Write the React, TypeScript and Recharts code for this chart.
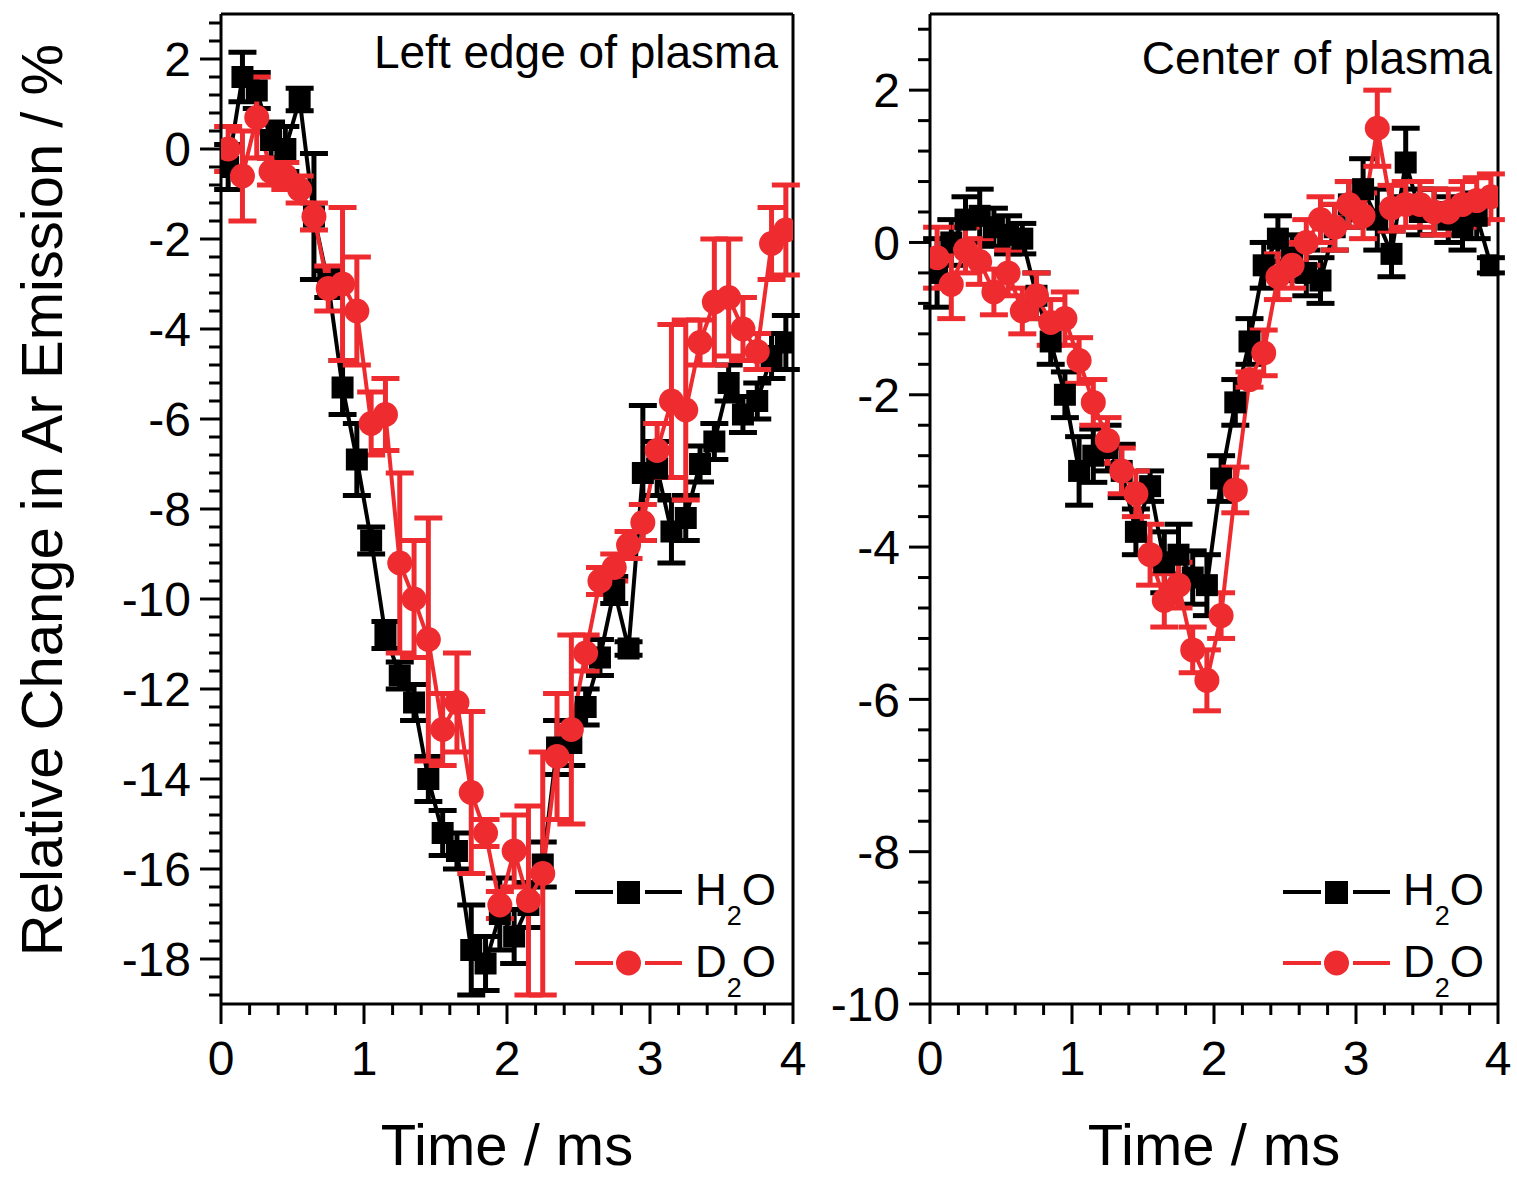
import React from 'react';
import { ComposedChart, Line, XAxis, YAxis, ErrorBar, ReferenceLine } from 'recharts';

const times = [
  0.05, 0.15, 0.25, 0.35, 0.45, 0.55, 0.65, 0.75, 0.85, 0.95,
  1.05, 1.15, 1.25, 1.35, 1.45, 1.55, 1.65, 1.75, 1.85, 1.95,
  2.05, 2.15, 2.25, 2.35, 2.45, 2.55, 2.65, 2.75, 2.85, 2.95,
  3.05, 3.15, 3.25, 3.35, 3.45, 3.55, 3.65, 3.75, 3.85, 3.95,
];

const leftH2O = [
  -0.4, 1.6, 1.3, 0.2, 0.0, 1.1, -1.5, -3.0, -5.3, -6.9,
  -8.7, -10.8, -11.7, -12.3, -14.0, -15.2, -15.6, -17.8, -18.1, -17.0,
  -17.5, -16.8, -15.9, -13.3, -13.2, -12.4, -11.3, -9.8, -11.1, -7.2,
  -7.1, -8.5, -8.2, -7.0, -6.5, -5.2, -5.9, -5.6, -4.6, -4.3,
];
const leftH2OErr = [
  0.5, 0.55, 0.4, 0.4, 0.5, 0.25, 1.4, 0.3, 0.6, 0.8,
  0.3, 0.3, 0.3, 0.4, 0.5, 0.5, 0.4, 1.0, 0.6, 0.8,
  0.6, 0.5, 0.5, 0.6, 0.5, 0.4, 0.4, 0.3, 0.15, 1.5,
  0.6, 0.7, 0.5, 0.4, 0.4, 0.4, 0.4, 0.4, 0.5, 0.6,
];
const leftD2O = [
  0.0, -0.6, 0.7, -0.5, -0.6, -0.9, -1.5, -3.1, -3.0, -3.6,
  -6.1, -5.9, -9.2, -10.0, -10.9, -12.9, -12.3, -14.3, -15.2, -16.8,
  -15.6, -16.7, -16.1, -13.5, -12.9, -11.2, -9.6, -9.3, -8.8, -8.3,
  -6.7, -5.6, -5.8, -4.3, -3.4, -3.3, -4.0, -4.5, -2.1, -1.8,
];
const leftD2OErr = [
  0.5, 1.0, 0.9, 0.3, 0.3, 0.3, 0.3, 0.5, 1.7, 1.2,
  0.7, 0.8, 2.0, 1.3, 2.7, 0.8, 1.1, 1.8, 0.3, 0.3,
  0.8, 2.1, 2.7, 1.4, 2.1, 0.4, 0.3, 0.3, 0.3, 0.4,
  0.6, 1.7, 2.0, 0.5, 1.4, 1.3, 0.7, 0.4, 0.8, 1.0,
];

const centerH2O = [
  -0.4, 0.0, 0.3, 0.35, 0.2, 0.1, 0.05, -0.7, -1.3, -2.0,
  -3.0, -2.8, -2.7, -3.0, -3.8, -3.2, -4.2, -4.1, -4.4, -4.5,
  -3.1, -2.1, -1.3, -0.3, 0.05, -0.2, -0.4, -0.5, 0.2, 0.5,
  0.7, 0.3, -0.15, 1.05, 0.4, 0.4, 0.3, 0.2, 0.35, -0.3,
];
const centerH2OErr = [
  0.45, 0.3, 0.3, 0.35, 0.25, 0.25, 0.2, 0.3, 0.3, 0.3,
  0.45, 0.35, 0.3, 0.35, 0.3, 0.2, 0.4, 0.4, 0.35, 0.4,
  0.3, 0.3, 0.3, 0.3, 0.3, 0.3, 0.3, 0.3, 0.3, 0.3,
  0.4, 0.4, 0.3, 0.45, 0.3, 0.3, 0.3, 0.3, 0.3, 0.1,
];
const centerD2O = [
  -0.2, -0.55, -0.1, -0.25, -0.65, -0.4, -0.9, -0.7, -1.05, -1.0,
  -1.55, -2.1, -2.6, -3.0, -3.3, -4.1, -4.7, -4.5, -5.35, -5.75,
  -4.9, -3.25, -1.8, -1.45, -0.45, -0.3, 0.0, 0.3, 0.2, 0.5,
  0.35, 1.5, 0.45, 0.5, 0.5, 0.4, 0.4, 0.5, 0.55, 0.6,
];
const centerD2OErr = [
  0.4, 0.45, 0.3, 0.3, 0.3, 0.3, 0.3, 0.3, 0.3, 0.35,
  0.3, 0.3, 0.3, 0.3, 0.3, 0.4, 0.35, 0.3, 0.3, 0.4,
  0.3, 0.3, 0.1, 0.3, 0.3, 0.3, 0.3, 0.3, 0.3, 0.3,
  0.3, 0.5, 0.3, 0.3, 0.3, 0.3, 0.3, 0.3, 0.3, 0.3,
];

const xMajorTicks = [0, 1, 2, 3, 4];
const leftYMajorTicks = [-18, -16, -14, -12, -10, -8, -6, -4, -2, 0, 2];
const centerYMajorTicks = [-10, -8, -6, -4, -2, 0, 2];
const xDomain: [number, number] = [0, 4];
const leftYDomain: [number, number] = [-19, 3];
const centerYDomain: [number, number] = [-10, 3];

const RED = '#ee2b2f';
const FONT = '"Liberation Sans", Arial, Helvetica, sans-serif';

function withMinor(majors: number[], step: number, lo: number, hi: number) {
  const out: number[] = [];
  const first = majors[0];
  const n0 = Math.ceil((lo - first) / step - 1e-9);
  for (let k = n0; first + k * step <= hi + 1e-9; k++) {
    out.push(Math.round((first + k * step) * 1000) / 1000);
  }
  return out;
}

const xTicks = withMinor(xMajorTicks, 0.2, xDomain[0], xDomain[1]);
const leftYTicks = withMinor(leftYMajorTicks, 0.4, leftYDomain[0], leftYDomain[1]);
const centerYTicks = withMinor(centerYMajorTicks, 0.4, centerYDomain[0], centerYDomain[1]);

function buildRows(h: number[], he: number[], d: number[], de: number[]) {
  return times.map((t, i) => ({ t, h: h[i], he: he[i], d: d[i], de: de[i] }));
}

const leftRows = buildRows(leftH2O, leftH2OErr, leftD2O, leftD2OErr);
const centerRows = buildRows(centerH2O, centerH2OErr, centerD2O, centerD2OErr);

const isMajor = (v: number, majors: number[]) => majors.some((m) => Math.abs(m - v) < 1e-6);

const XTick = (props: any) => {
  const { x, y, payload } = props;
  const v = payload.value;
  const major = isMajor(v, xMajorTicks);
  return (
    <g>
      <line x1={x} x2={x} y1={y} y2={y + (major ? 20 : 11)} stroke="#000" strokeWidth={3} />
      {major && (
        <text x={x} y={y + 71} textAnchor="middle" fontSize={48} fontFamily={FONT} fill="#000">
          {String(v)}
        </text>
      )}
    </g>
  );
};

const makeYTick = (majors: number[]) => (props: any) => {
  const { x, y, payload } = props;
  const v = payload.value;
  const major = isMajor(v, majors);
  return (
    <g>
      <line x1={x - (major ? 21 : 12)} x2={x} y1={y} y2={y} stroke="#000" strokeWidth={3} />
      {major && (
        <text x={x - 30} y={y} dy="0.36em" textAnchor="end" fontSize={48} fontFamily={FONT} fill="#000">
          {String(Math.round(v))}
        </text>
      )}
    </g>
  );
};

const squareDot = (props: any) => {
  const { cx, cy, index } = props;
  if (cx == null || cy == null) return <g key={`sq-${index}`} />;
  return <rect key={`sq-${index}`} x={cx - 11} y={cy - 11} width={22} height={22} fill="#000" />;
};

const circleDot = (props: any) => {
  const { cx, cy, index } = props;
  if (cx == null || cy == null) return <g key={`ci-${index}`} />;
  return <circle key={`ci-${index}`} cx={cx} cy={cy} r={12.5} fill={RED} />;
};

type PanelProps = {
  rows: any[];
  yDomain: [number, number];
  yTicks: number[];
  yMajors: number[];
  left: number;
  width: number;
  marginLeft: number;
  marginRight: number;
};

function Panel({ rows, yDomain, yTicks, yMajors, left, width, marginLeft, marginRight }: PanelProps) {
  const axisStyle = { stroke: '#000', strokeWidth: 3 };
  return (
    <div style={{ position: 'absolute', left, top: 0 }}>
      <ComposedChart
        width={width}
        height={1177}
        data={rows}
        margin={{ top: 14, right: marginRight, bottom: 113, left: marginLeft }}
      >
        <XAxis
          dataKey="t"
          type="number"
          domain={xDomain}
          ticks={xTicks}
          interval={0}
          tickSize={0}
          tickMargin={0}
          tickLine={false}
          axisLine={axisStyle}
          tick={(p: any) => <XTick {...p} />}
          height={60}
          allowDataOverflow
        />
        <YAxis
          type="number"
          domain={yDomain}
          ticks={yTicks}
          interval={0}
          tickSize={0}
          tickMargin={0}
          tickLine={false}
          axisLine={axisStyle}
          tick={makeYTick(yMajors)}
          width={100}
          allowDataOverflow
        />
        <ReferenceLine x={xDomain[1]} stroke="#000" strokeWidth={3} />
        <ReferenceLine y={yDomain[1]} stroke="#000" strokeWidth={3} />
        <Line
          type="linear"
          dataKey="h"
          stroke="#000"
          strokeWidth={4}
          dot={squareDot}
          activeDot={false}
          isAnimationActive={false}
        >
          <ErrorBar dataKey="he" width={14} stroke="#000" strokeWidth={5} isAnimationActive={false} />
        </Line>
        <Line
          type="linear"
          dataKey="d"
          stroke={RED}
          strokeWidth={4}
          dot={circleDot}
          activeDot={false}
          isAnimationActive={false}
        >
          <ErrorBar dataKey="de" width={14} stroke={RED} strokeWidth={5} isAnimationActive={false} />
        </Line>
      </ComposedChart>
    </div>
  );
}

function LegendBlock({ dx }: { dx: number }) {
  return (
    <g transform={`translate(${dx},0)`} fontFamily={FONT}>
      <line x1={575} x2={613} y1={892} y2={892} stroke="#000" strokeWidth={4} />
      <line x1={645} x2={682} y1={892} y2={892} stroke="#000" strokeWidth={4} />
      <rect x={617} y={881} width={23} height={23} fill="#000" />
      <text x={695} y={905} fontSize={44} fill="#000">
        H<tspan fontSize={27} dy={20}>2</tspan>
        <tspan fontSize={44} dy={-20}>O</tspan>
      </text>
      <line x1={575} x2={613} y1={963} y2={963} stroke={RED} strokeWidth={4} />
      <line x1={645} x2={682} y1={963} y2={963} stroke={RED} strokeWidth={4} />
      <circle cx={628.5} cy={963} r={12.5} fill={RED} />
      <text x={695} y={977} fontSize={44} fill="#000">
        D<tspan fontSize={27} dy={20}>2</tspan>
        <tspan fontSize={44} dy={-20}>O</tspan>
      </text>
    </g>
  );
}

export default function App() {
  return (
    <div style={{ position: 'absolute', left: 0, top: 0, width: 1517, height: 1177, background: '#fff', overflow: 'hidden' }}>
      <Panel
        rows={leftRows}
        yDomain={leftYDomain}
        yTicks={leftYTicks}
        yMajors={leftYMajorTicks}
        left={0}
        width={830}
        marginLeft={121}
        marginRight={37}
      />
      <Panel
        rows={centerRows}
        yDomain={centerYDomain}
        yTicks={centerYTicks}
        yMajors={centerYMajorTicks}
        left={720}
        width={797}
        marginLeft={110}
        marginRight={19}
      />
      <svg
        width={1517}
        height={1177}
        style={{ position: 'absolute', left: 0, top: 0, pointerEvents: 'none' }}
      >
        <text
          transform="translate(62,500) rotate(-90)"
          textAnchor="middle"
          fontSize={58}
          fontFamily={FONT}
          fill="#000"
        >
          Relative Change in Ar Emission / %
        </text>
        <text x={507} y={1165} textAnchor="middle" fontSize={58} fontFamily={FONT} fill="#000">
          Time / ms
        </text>
        <text x={1214} y={1165} textAnchor="middle" fontSize={58} fontFamily={FONT} fill="#000">
          Time / ms
        </text>
        <text x={778} y={68} textAnchor="end" fontSize={46} fontFamily={FONT} fill="#000">
          Left edge of plasma
        </text>
        <text x={1492} y={74} textAnchor="end" fontSize={46} fontFamily={FONT} fill="#000">
          Center of plasma
        </text>
        <LegendBlock dx={0} />
        <LegendBlock dx={708} />
      </svg>
    </div>
  );
}
